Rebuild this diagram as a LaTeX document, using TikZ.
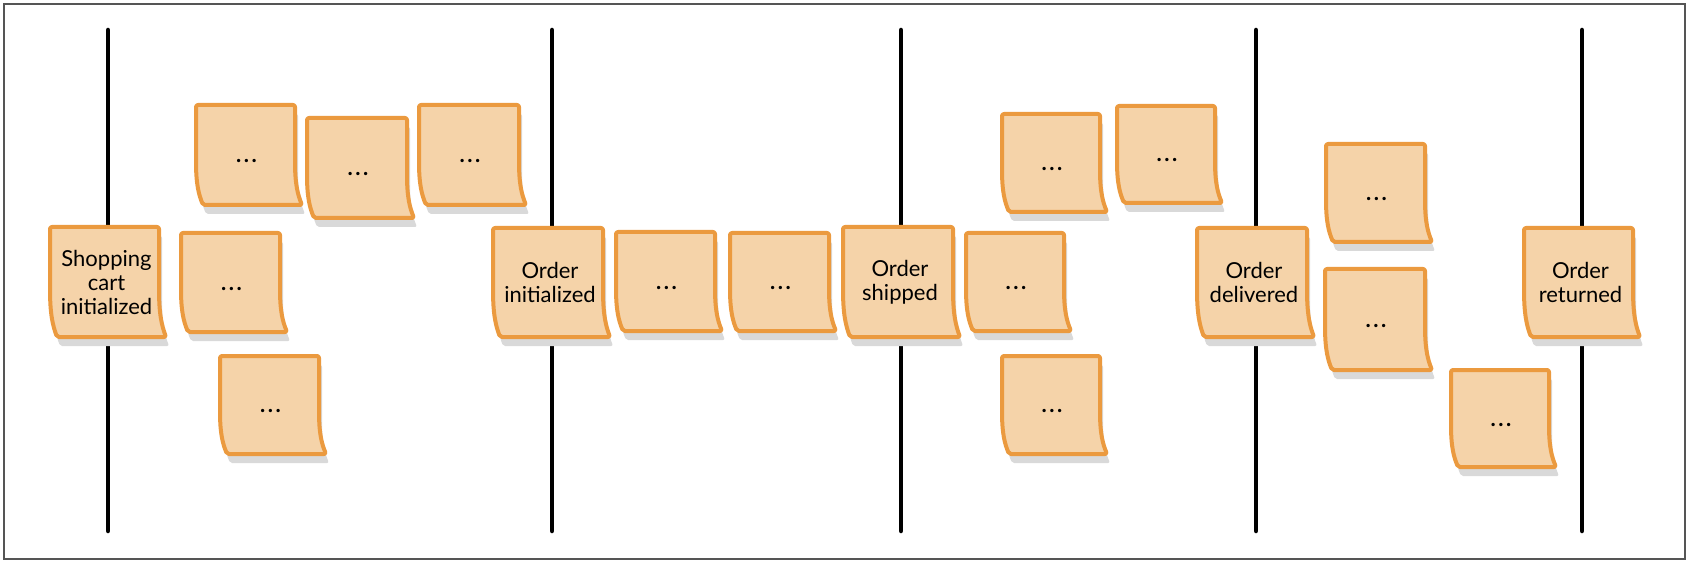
\documentclass[tikz,border=0pt]{standalone}
\usepackage{fontspec}
\setmainfont{Lato}
\definecolor{notefill}{HTML}{F5D3A9}
\definecolor{noteedge}{HTML}{EB9A3F}
\definecolor{noteshadow}{HTML}{D9D9D9}
\definecolor{framegray}{HTML}{555555}
\tikzset{
  timeline/.style={line width=4.5pt, black, line cap=round},
  notebody/.style={fill=notefill, draw=noteedge, line width=4pt, rounded corners=2pt, line join=round},
  noteshade/.style={fill=noteshadow, rounded corners=2pt},
  notetext/.style={font=\fontsize{22}{24}\selectfont, align=center, inner sep=0pt, text=black},
  dotstext/.style={font=\fontsize{22}{24}\selectfont\bfseries, inner sep=0pt, text=black}
}
% #1 style, #2 x, #3 y, #4 w, #5 h
\newcommand\stickyshape[5]{%
  \path[#1] (#2,#3) -- ++(#4,0) -- ++(0,0.55*#5)
    .. controls +(0,0.25*#5) and +(-4,-0.1*#5) .. ++(7,0.45*#5)
    -- ++(-#4,0)
    .. controls +(-4,-0.1*#5) and +(0,0.25*#5) .. ++(-7,-0.45*#5) -- cycle;}
\newcommand\stickynote[6]{%
  \stickyshape{noteshade}{#2+3}{#3+9}{#4}{#5}
  \stickyshape{notebody}{#2}{#3}{#4}{#5}
  \node[notetext] (#1) at (#2+0.5*#4+2,#3+0.5*#5) {#6};}
\newcommand\stickydots[5]{%
  \stickyshape{noteshade}{#2+3}{#3+9}{#4}{#5}
  \stickyshape{notebody}{#2}{#3}{#4}{#5}
  \node[dotstext] (#1) at (#2+0.5*#4+1,#3+0.5*#5+6) {.\kern2.5pt.\kern2.5pt.};}
\begin{document}
\begin{tikzpicture}[x=1pt,y=-1pt]
\useasboundingbox (0,0) rectangle (1690,564);
\draw[framegray, line width=1.3pt] (4,4) rectangle (1685,559);
% timelines
\foreach \lx in {108,552,901,1256,1582}{
  \draw[timeline] (\lx,30) -- (\lx,531);
}
% notes
\stickydots{a}{196}{105}{99}{100}
\stickydots{b}{307}{118}{100}{100}
\stickydots{c}{419}{105}{100}{100}
\stickydots{d}{181}{233}{99}{99}
\stickydots{e}{220}{356}{99}{98}
\stickynote{cart}{50}{227}{109}{110}{Shopping\\cart\\initialized}
\stickynote{init}{493}{228}{110}{109}{Order\\initialized}
\stickydots{f}{616}{232}{99}{99}
\stickydots{g}{730}{233}{99}{98}
\stickynote{shipped}{843}{227}{110}{110}{Order\\shipped}
\stickydots{h}{966}{233}{98}{98}
\stickydots{i}{1002}{114}{98}{98}
\stickydots{j}{1117}{106}{98}{97}
\stickydots{k}{1002}{356}{98}{98}
\stickynote{delivered}{1197}{228}{110}{109}{Order\\delivered}
\stickydots{l}{1326}{144}{99}{98}
\stickydots{m}{1325}{269}{100}{101}
\stickynote{returned}{1524}{228}{109}{109}{Order\\returned}
\stickydots{n}{1451}{370}{98}{97}
\end{tikzpicture}
\end{document}
